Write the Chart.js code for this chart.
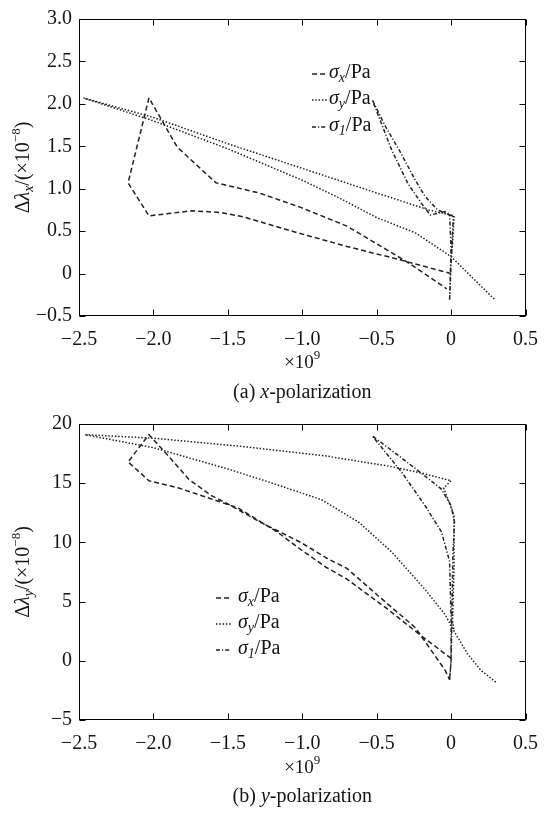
<!DOCTYPE html>
<html>
<head>
<meta charset="utf-8">
<script src="https://cdn.jsdelivr.net/npm/chart.js@4.4.1/dist/chart.umd.min.js"></script>
<style>
    html, body { margin: 0; padding: 0; background: #fff; }
    .panel { position: relative; width: 550px; }
    canvas { display: block; }
</style>
</head>
<body>
<div class="panel" style="height:405px"><canvas id="chart-x" width="550" height="405"></canvas></div>
<div class="panel" style="height:411px"><canvas id="chart-y" width="550" height="411"></canvas></div>
<script>
// (a) x-polarization: [stress ×1e9 Pa, Δλx ×1e-8]
var xPolSigmaX = [
    [0.00, 0.00], [-0.36, 0.17], [-0.70, 0.32], [-1.03, 0.48], [-1.40, 0.67], [-1.55, 0.72],
    [-1.74, 0.74], [-2.03, 0.68], [-2.17, 1.07], [-2.03, 2.07], [-1.84, 1.49], [-1.58, 1.07],
    [-1.29, 0.95], [-1.01, 0.78], [-0.70, 0.56], [-0.47, 0.32], [-0.29, 0.13], [-0.12, -0.07],
    [-0.03, -0.18]
];
var xPolSigmaY = [
    [0.29, -0.30], [0.15, -0.06], [0.00, 0.20], [-0.24, 0.48], [-0.50, 0.66], [-0.75, 0.89],
    [-1.00, 1.10], [-1.50, 1.47], [-2.00, 1.80], [-2.47, 2.07], [-2.00, 1.84], [-1.50, 1.53],
    [-1.00, 1.24], [-0.50, 0.95], [-0.15, 0.75], [0.02, 0.68], [0.01, 0.35], [0.00, 0.20]
];
var xPolSigma1 = [
    [-0.01, -0.31], [0.00, 0.10], [0.015, 0.67], [-0.04, 0.73], [-0.14, 0.69], [-0.20, 0.83],
    [-0.29, 1.06], [-0.40, 1.46], [-0.53, 2.05], [-0.44, 1.73], [-0.35, 1.46], [-0.24, 1.10],
    [-0.175, 0.91], [-0.09, 0.75], [-0.01, 0.69], [0.00, 0.30], [-0.01, -0.31]
];

// (b) y-polarization: [stress ×1e9 Pa, Δλy ×1e-8]
var yPolSigmaX = [
    [0.00, 0.20], [-0.24, 2.50], [-0.43, 4.40], [-0.70, 6.90], [-0.84, 7.90], [-1.01, 9.40],
    [-1.17, 10.90], [-1.43, 12.90], [-1.57, 13.50], [-1.83, 14.60], [-2.03, 15.20], [-2.17, 16.80],
    [-2.03, 19.10], [-1.90, 17.30], [-1.76, 15.30], [-1.61, 13.95], [-1.50, 13.25], [-1.28, 11.70],
    [-1.01, 10.00], [-0.84, 8.70], [-0.70, 7.80], [-0.50, 5.60], [-0.24, 2.80], [-0.04, -0.80],
    [-0.01, -1.60]
];
var yPolSigmaY = [
    [0.30, -1.80], [0.20, -0.80], [0.11, 0.60], [0.02, 2.50], [-0.04, 3.90], [-0.18, 6.10],
    [-0.40, 9.20], [-0.62, 11.70], [-0.87, 13.60], [-1.20, 15.00], [-1.50, 16.20], [-2.00, 18.00],
    [-2.46, 19.10], [-2.00, 18.80], [-1.40, 18.10], [-0.84, 17.30], [-0.40, 16.40], [-0.18, 15.80],
    [0.00, 15.20], [-0.05, 14.60], [0.02, 12.30], [0.02, 8.00], [0.01, 3.40], [0.02, 2.50]
];
var yPolSigma1 = [
    [-0.01, -1.60], [0.00, 0.00], [0.005, 3.40], [0.012, 8.90], [0.023, 11.70], [0.00, 13.10],
    [-0.065, 14.50], [-0.175, 15.60], [-0.35, 17.30], [-0.53, 19.00], [-0.33, 15.90], [-0.175, 13.10],
    [-0.065, 10.90], [-0.01, 8.40], [0.00, 3.40], [0.00, 0.00], [-0.01, -1.60]
];

var xTicks = { min: -2.5, max: 0.5, step: 0.5 };
var xPolTicks = { min: -0.5, max: 3.0, step: 0.5 };
var yPolTicks = { min: -5, max: 20, step: 5 };

var FONT = "'Liberation Serif', 'Times New Roman', serif";
var INK = '#151515';
var LINE = '#222222';
var DASH_X = [5, 3];
var DASH_Y = [1.5, 1.8];
var DASH_1 = [4, 2, 1.2, 2];

function toPoints(pairs) {
    return pairs.map(function(p) { return { x: p[0], y: p[1] }; });
}

function fmt(v, decimals) {
    if (Math.abs(v) < 1e-9) return '0';
    return v.toFixed(decimals).replace('-', '\u2212');
}

function segFont(s) {
    return (s.it ? 'italic ' : '') + (s.size || (s.sub ? 14 : s.sup ? 13 : 20)) + 'px ' + FONT;
}

function drawRich(ctx, segs, x, y, align) {
    ctx.save();
    ctx.textBaseline = 'middle';
    ctx.textAlign = 'left';
    ctx.fillStyle = INK;
    var w = 0;
    segs.forEach(function(s) { ctx.font = segFont(s); w += ctx.measureText(s.t).width; });
    var cx = align === 'center' ? x - w / 2 : x;
    segs.forEach(function(s) {
        ctx.font = segFont(s);
        var dy = s.sub ? 5 : (s.sup ? -7 : 0);
        ctx.fillText(s.t, cx, y + dy);
        cx += ctx.measureText(s.t).width;
    });
    ctx.restore();
}

function legendLabel(sub) {
    return [{ t: '\u03c3', it: true }, { t: sub, it: true, sub: true }, { t: '/Pa' }];
}

function framePlugin(cfg) {
    return {
        id: 'frame',
        afterDraw: function(chart) {
            var ctx = chart.ctx;
            var a = chart.chartArea;
            var sx = chart.scales.x, sy = chart.scales.y;
            var L = Math.round(a.left) + 0.5, R = Math.round(a.right) - 0.5;
            var T = Math.round(a.top) + 0.5, B = Math.round(a.bottom) - 0.5;
            ctx.save();
            ctx.strokeStyle = '#000';
            ctx.lineWidth = 1;
            ctx.setLineDash([]);
            ctx.strokeRect(L, T, R - L, B - T);
            ctx.beginPath();
            sx.ticks.forEach(function(t) {
                var px = Math.round(sx.getPixelForValue(t.value)) + 0.5;
                ctx.moveTo(px, B); ctx.lineTo(px, B - 6);
                ctx.moveTo(px, T); ctx.lineTo(px, T + 6);
            });
            sy.ticks.forEach(function(t) {
                var py = Math.round(sy.getPixelForValue(t.value)) + 0.5;
                ctx.moveTo(L, py); ctx.lineTo(L + 6, py);
                ctx.moveTo(R, py); ctx.lineTo(R - 6, py);
            });
            ctx.stroke();

            // legend
            var dashes = [DASH_X, DASH_Y, DASH_1];
            var subs = ['x', 'y', '1'];
            ctx.strokeStyle = LINE;
            ctx.lineWidth = 1.5;
            for (var i = 0; i < 3; i++) {
                var ly = cfg.legendY[i];
                ctx.setLineDash(dashes[i]);
                ctx.beginPath();
                ctx.moveTo(cfg.legendX, ly + 1);
                ctx.lineTo(cfg.legendX + 15, ly + 1);
                ctx.stroke();
                drawRich(ctx, legendLabel(subs[i]), cfg.legendX + cfg.legendGap, ly, 'left');
            }
            ctx.restore();

            // y axis title, rotated
            ctx.save();
            ctx.translate(cfg.titleX, (a.top + a.bottom) / 2);
            ctx.rotate(-Math.PI / 2);
            drawRich(ctx, [
                { t: '\u0394' }, { t: '\u03bb', it: true }, { t: cfg.axisSub, it: true, sub: true },
                { t: '/(\u00d710' }, { t: '\u22128', sup: true }, { t: ')' }
            ], 0, 0, 'center');
            ctx.restore();

            var mid = (a.left + a.right) / 2;
            drawRich(ctx, [{ t: '\u00d710', size: 19 }, { t: '9', sup: true }], mid, cfg.unitY, 'center');
            drawRich(ctx, [{ t: cfg.captionPre }, { t: cfg.axisSub, it: true }, { t: '-polarization' }],
                mid, cfg.captionY, 'center');
        }
    };
}

function buildChart(canvasId, series, yTicks, yDecimals, cfg) {
    var canvas = document.getElementById(canvasId);
    var styles = [DASH_X, DASH_Y, DASH_1];
    var names = ['\u03c3x/Pa', '\u03c3y/Pa', '\u03c31/Pa'];
    return new Chart(canvas, {
        type: 'scatter',
        data: {
            datasets: series.map(function(s, i) {
                return {
                    label: names[i],
                    data: toPoints(s),
                    showLine: true,
                    borderColor: LINE,
                    borderWidth: 1.5,
                    borderDash: styles[i],
                    pointRadius: 0,
                    fill: false,
                    tension: 0
                };
            })
        },
        options: {
            responsive: false,
            animation: false,
            events: [],
            layout: { padding: { top: cfg.padTop, right: 18, left: 0, bottom: 0 } },
            plugins: { legend: { display: false }, tooltip: { enabled: false } },
            scales: {
                x: {
                    type: 'linear',
                    min: xTicks.min,
                    max: xTicks.max,
                    grid: { display: false, drawTicks: false },
                    border: { display: false },
                    ticks: {
                        stepSize: xTicks.step,
                        color: INK,
                        padding: 12,
                        maxRotation: 0,
                        font: { family: FONT, size: 20 },
                        callback: function(v) { return fmt(v, 1); }
                    },
                    afterFit: function(scale) { scale.height = cfg.xHeight; }
                },
                y: {
                    type: 'linear',
                    min: yTicks.min,
                    max: yTicks.max,
                    grid: { display: false, drawTicks: false },
                    border: { display: false },
                    ticks: {
                        stepSize: yTicks.step,
                        color: INK,
                        padding: 7,
                        font: { family: FONT, size: 20 },
                        callback: function(v) { return fmt(v, yDecimals); }
                    },
                    afterFit: function(scale) { scale.width = 79; }
                }
            }
        },
        plugins: [framePlugin(cfg)]
    });
}

buildChart('chart-x', [xPolSigmaX, xPolSigmaY, xPolSigma1], xPolTicks, 1, {
    padTop: 19, xHeight: 89,
    legendX: 312, legendGap: 17, legendY: [73, 99, 126],
    titleX: 24, axisSub: 'x', captionPre: '(a) ',
    unitY: 363, captionY: 393
});

buildChart('chart-y', [yPolSigmaX, yPolSigmaY, yPolSigma1], yPolTicks, 0, {
    padTop: 16, xHeight: 96,
    legendX: 216, legendGap: 22, legendY: [192, 218, 244],
    titleX: 24, axisSub: 'y', captionPre: '(b) ',
    unitY: 363, captionY: 392
});
</script>
</body>
</html>
